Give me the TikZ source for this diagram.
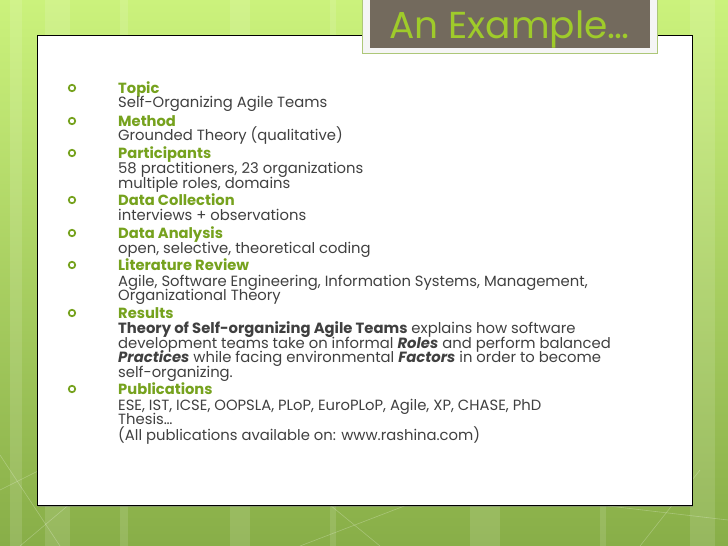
\documentclass[tikz,border=0pt]{standalone}
\usepackage{fontspec}
\setmainfont{Poppins}
\usetikzlibrary{shadows}
\definecolor{headgreen}{HTML}{76A21E}
\definecolor{bodygray}{HTML}{404040}
\definecolor{titlebox}{HTML}{736A5D}
\definecolor{titletext}{HTML}{9FCB2A}
\definecolor{bgtop}{HTML}{CBF27C}
\definecolor{bgbot}{HTML}{88AE48}
\tikzset{
  head/.style={anchor=base west, inner sep=0pt, text=headgreen, font=\fontsize{14.7}{16}\selectfont\bfseries},
  body/.style={anchor=base west, inner sep=0pt, text=bodygray, font=\fontsize{14.8}{16}\selectfont},
  bul/.style={circle, draw=headgreen, line width=1.7pt, minimum size=6.5pt, inner sep=0pt},
  stripe/.style={fill=white, opacity=0.12, draw=none},
  faint/.style={draw=white, opacity=0.25, line width=0.6pt}
}
\begin{document}
\begin{tikzpicture}[x=1pt,y=-1pt]
\useasboundingbox (0,0) rectangle (728,546);
% background
\shade[top color=bgtop, bottom color=bgbot, draw=none] (0,0) rectangle (728,546);
\fill[stripe] (10,0) rectangle (22,546);
\fill[stripe] (45,0) rectangle (70,546);
\fill[stripe] (120,0) rectangle (128,546);
\fill[stripe] (230,0) rectangle (250,546);
\fill[stripe] (330,0) rectangle (336,546);
\fill[stripe] (470,0) rectangle (500,546);
\fill[stripe] (600,0) rectangle (606,546);
\fill[stripe] (690,0) rectangle (715,546);
\draw[faint] (0,455) -- (60,546);
\draw[faint] (20,546) -- (110,470);
\draw[faint] (300,546) -- (420,500);
\draw[faint] (380,546) -- (330,505);
\draw[faint] (600,505) -- (728,520);
\draw[faint] (640,546) -- (700,470);
\draw[faint] (0,490) -- (40,470);
% content panel
\node (panel) [draw=black, line width=0.8pt, fill=white, drop shadow={shadow xshift=1pt, shadow yshift=-1.5pt, opacity=0.5},
  minimum width=655pt, minimum height=470pt, inner sep=0pt, anchor=north west] at (37,35) {};
% title box
\node (titleframe) [fill=white!92!gray, draw=headgreen!60, line width=0.8pt, minimum width=295pt, minimum height=54pt,
  inner sep=0pt, anchor=north west] at (362,-1) {};
\node (titlebg) [fill=titlebox, minimum width=280pt, minimum height=49pt, inner sep=0pt, anchor=north west] at (370,-1) {};
\node (title) [anchor=base west, inner sep=0pt, text=titletext, font=\fontsize{37.5}{40}\selectfont] at (389,38) {An Example…};
% bullets
\node (b1) [bul] at (72,88) {};
\node (b2) [bul] at (72,121) {};
\node (b3) [bul] at (72,153) {};
\node (b4) [bul] at (72,200) {};
\node (b5) [bul] at (72,233) {};
\node (b6) [bul] at (72,265) {};
\node (b7) [bul] at (72,313) {};
\node (b8) [bul] at (72,389) {};
% texts
\node (h1) [head] at (118,93) {Topic};
\node (t1) [body] at (118,107) {Self-Organizing Agile Teams};
\node (h2) [head] at (118,126) {Method};
\node (t2) [body] at (118,140) {Grounded Theory (qualitative)};
\node (h3) [head] at (118,158) {Participants};
\node (t3a) [body] at (118,173) {58 practitioners, 23 organizations};
\node (t3b) [body] at (118,188) {multiple roles, domains};
\node (h4) [head] at (118,205) {Data Collection};
\node (t4) [body] at (118,220) {interviews + observations};
\node (h5) [head] at (118,238) {Data Analysis};
\node (t5) [body] at (118,253) {open, selective, theoretical coding};
\node (h6) [head] at (118,270) {Literature Review};
\node (t6a) [body] at (118,286) {Agile, Software Engineering, Information Systems, Management,};
\node (t6b) [body] at (118,300) {Organizational Theory};
\node (h7) [head] at (118,318) {Results};
\node (t7a) [body] at (118,333) {\textbf{Theory of Self-organizing Agile Teams} explains how software};
\node (t7b) [body] at (118,348) {development teams take on informal \textbf{\textit{Roles}} and perform balanced};
\node (t7c) [body] at (118,362) {\textbf{\textit{Practices}} while facing environmental \textbf{\textit{Factors}} in order to become};
\node (t7d) [body] at (118,377) {self-organizing.};
\node (h8) [head] at (118,394) {Publications};
\node (t8a) [body] at (118,410) {ESE, IST, ICSE, OOPSLA, PLoP, EuroPLoP, Agile, XP, CHASE, PhD};
\node (t8b) [body] at (118,424) {Thesis…};
\node (t8c) [body] at (118,440) {(All publications available on: www.rashina.com)};
\end{tikzpicture}
\end{document}
